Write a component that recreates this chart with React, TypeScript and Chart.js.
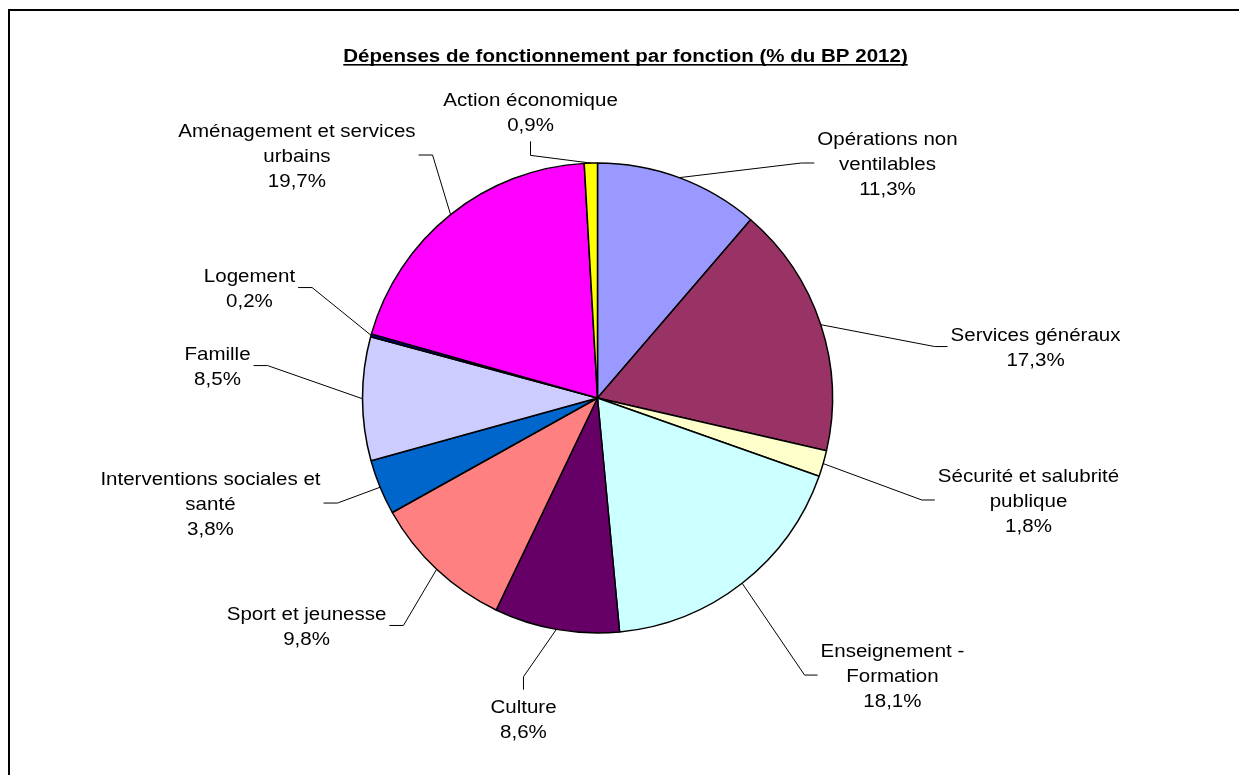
import React, { useEffect, useRef } from 'react';
import { Chart, registerables } from 'chart.js';

Chart.register(...registerables);

const TITLE = 'Dépenses de fonctionnement par fonction (% du BP 2012)';

const categories = [
  'Opérations non ventilables',
  'Services généraux',
  'Sécurité et salubrité publique',
  'Enseignement - Formation',
  'Culture',
  'Sport et jeunesse',
  'Interventions sociales et santé',
  'Famille',
  'Logement',
  'Aménagement et services urbains',
  'Action économique',
];

const labelLines = [
  ['Opérations non', 'ventilables'],
  ['Services généraux'],
  ['Sécurité et salubrité', 'publique'],
  ['Enseignement -', 'Formation'],
  ['Culture'],
  ['Sport et jeunesse'],
  ['Interventions sociales et', 'santé'],
  ['Famille'],
  ['Logement'],
  ['Aménagement et services', 'urbains'],
  ['Action économique'],
];

const shares = [11.3, 17.3, 1.8, 18.1, 8.6, 9.8, 3.8, 8.5, 0.2, 19.7, 0.9];

const colors = [
  '#9999FF', '#993366', '#FFFFCC', '#CCFFFF', '#660066', '#FF8080',
  '#0066CC', '#CCCCFF', '#000080', '#FF00FF', '#FFFF00',
];

// label block centre, relative to pie centre, in units of the pie radius; side = where the label sits relative to its leader line
const labelLayout: { fx: number; fy: number; side: 'L' | 'R' | 'T' | 'B' }[] = [
  { fx: 1.234, fy: -1.0, side: 'R' },
  { fx: 1.864, fy: -0.219, side: 'R' },
  { fx: 1.834, fy: 0.434, side: 'R' },
  { fx: 1.255, fy: 1.179, side: 'R' },
  { fx: -0.315, fy: 1.364, side: 'B' },
  { fx: -1.238, fy: 0.968, side: 'L' },
  { fx: -1.647, fy: 0.447, side: 'L' },
  { fx: -1.617, fy: -0.138, side: 'L' },
  { fx: -1.481, fy: -0.47, side: 'L' },
  { fx: -1.279, fy: -1.034, side: 'L' },
  { fx: -0.285, fy: -1.219, side: 'T' },
];

const FONT_SIZE = 18.67;
const SX = 1.1;
const LINE_H = 25;
const TEXT_DY = 1.5;
const FAMILY = '"Liberation Sans", Arial, sans-serif';

const fmt = (v: number) => v.toFixed(1).replace('.', ',') + '%';

function drawText(ctx: CanvasRenderingContext2D, text: string, x: number, y: number) {
  ctx.save();
  ctx.translate(x, y + TEXT_DY);
  ctx.scale(SX, 1);
  ctx.fillText(text, 0, 0);
  ctx.restore();
}

const decorPlugin = {
  id: 'decor',
  beforeDraw(chart: any) {
    const ctx: CanvasRenderingContext2D = chart.ctx;
    ctx.save();
    ctx.fillStyle = '#ffffff';
    ctx.fillRect(0, 0, chart.width, chart.height);
    ctx.strokeStyle = '#000000';
    ctx.lineWidth = 2;
    ctx.strokeRect(9, 10, chart.width + 50, chart.height + 50);
    ctx.restore();
  },
  afterDraw(chart: any) {
    const ctx: CanvasRenderingContext2D = chart.ctx;
    ctx.save();
    // title
    ctx.fillStyle = '#000000';
    ctx.font = `bold ${FONT_SIZE}px ${FAMILY}`;
    ctx.textAlign = 'center';
    ctx.textBaseline = 'middle';
    const tx = 625.5;
    const ty = 55;
    drawText(ctx, TITLE, tx, ty);
    const tw = ctx.measureText(TITLE).width * SX;
    ctx.fillRect(tx - tw / 2, ty + TEXT_DY + 7.5, tw, 1.6);

    // labels + leader lines
    const meta = chart.getDatasetMeta(0);
    ctx.font = `${FONT_SIZE}px ${FAMILY}`;
    meta.data.forEach((arc: any, i: number) => {
      const cx = arc.x;
      const cy = arc.y;
      const R = arc.outerRadius;
      const mid = (arc.startAngle + arc.endAngle) / 2;
      const px = cx + R * Math.cos(mid);
      const py = cy + R * Math.sin(mid);
      const lay = labelLayout[i];
      const lx = cx + lay.fx * R;
      const ly = cy + lay.fy * R;
      const lines = [...labelLines[i], fmt(shares[i])];
      const n = lines.length;
      const top = ly - ((n - 1) * LINE_H) / 2;
      let maxW = 0;
      lines.forEach((s) => {
        maxW = Math.max(maxW, ctx.measureText(s).width * SX);
      });
      ctx.fillStyle = '#000000';
      lines.forEach((s, k) => drawText(ctx, s, lx, top + k * LINE_H));

      let sx0 = 0, sy0 = 0, sx1 = 0, sy1 = 0;
      if (lay.side === 'R') {
        sx1 = lx - maxW / 2 - 3; sy1 = ly; sx0 = sx1 - 13; sy0 = ly;
      } else if (lay.side === 'L') {
        sx1 = lx + maxW / 2 + 3; sy1 = ly; sx0 = sx1 + 14; sy0 = ly;
      } else if (lay.side === 'T') {
        sx1 = lx; sy1 = top + (n - 1) * LINE_H + FONT_SIZE / 2 + 8; sx0 = lx; sy0 = sy1 + 14;
      } else {
        sx1 = lx; sy1 = top - FONT_SIZE / 2 - 7; sx0 = lx; sy0 = sy1 - 13;
      }
      ctx.strokeStyle = '#000000';
      ctx.lineWidth = 1;
      ctx.beginPath();
      ctx.moveTo(px, py);
      ctx.lineTo(sx0, sy0);
      ctx.lineTo(sx1, sy1);
      ctx.stroke();
    });
    ctx.restore();
  },
};

export default function App() {
  const canvasRef = useRef<HTMLCanvasElement | null>(null);

  useEffect(() => {
    if (!canvasRef.current) return;
    const chart = new Chart(canvasRef.current, {
      type: 'pie',
      data: {
        labels: categories,
        datasets: [
          {
            data: shares,
            backgroundColor: colors,
            borderColor: '#000000',
            borderWidth: 1.5,
          },
        ],
      },
      options: {
        animation: false,
        responsive: true,
        maintainAspectRatio: false,
        radius: 235,
        layout: { padding: { left: 300, right: 344, top: 100, bottom: 79 } },
        plugins: {
          legend: { display: false },
          tooltip: { enabled: false },
          title: { display: false },
        },
      } as any,
      plugins: [decorPlugin],
    });
    return () => chart.destroy();
  }, []);

  return (
    <div style={{ position: 'absolute', left: 0, top: 0, width: 1239, height: 775 }}>
      <canvas ref={canvasRef} />
    </div>
  );
}
